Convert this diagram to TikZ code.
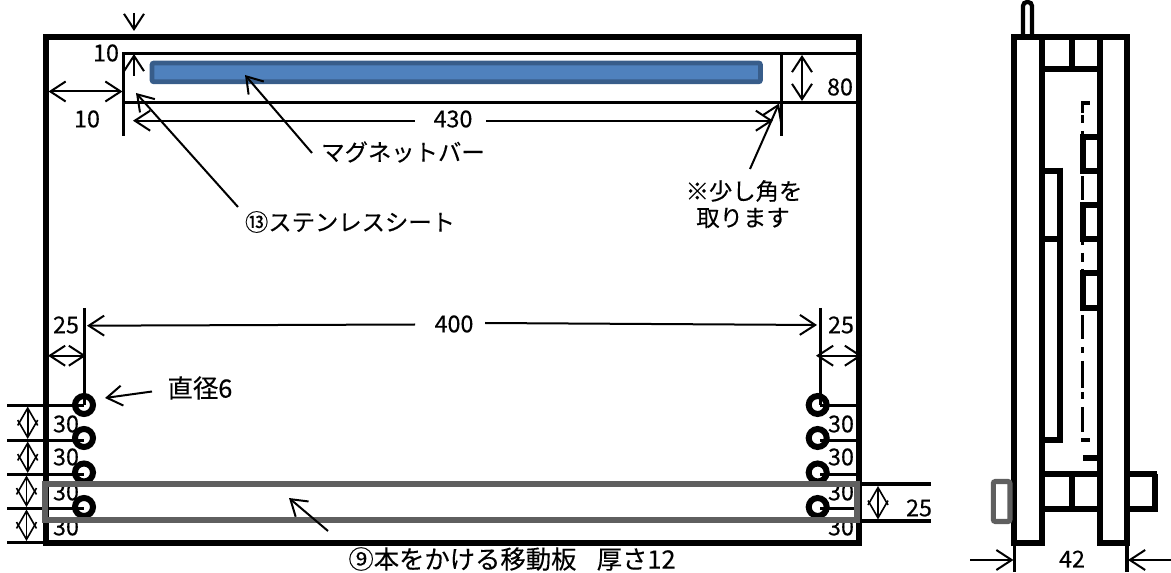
\documentclass[tikz,border=0pt]{standalone}
\usepackage{fontspec}
\setmainfont[FakeBold=0.25]{Noto Sans CJK JP}
\usetikzlibrary{arrows.meta}
\definecolor{barfill}{HTML}{4F81BD}
\definecolor{barline}{HTML}{385D8A}
\definecolor{platecol}{HTML}{5F5F5F}
\tikzset{
  heavy/.style={line width=4.5pt,line cap=rect,line join=miter},
  thinrule/.style={line width=2.3pt},
  dimarrow/.style={line width=1.5pt,{Straight Barb[length=11.5pt,width=15pt]}-{Straight Barb[length=11.5pt,width=15pt]}},
  endarrow/.style={line width=1.5pt,-{Straight Barb[length=11.5pt,width=15pt]}},
  startarrow/.style={line width=1.5pt,{Straight Barb[length=11.5pt,width=15pt]}-},
  diamondarrow/.style={line width=1.2pt,{Straight Barb[length=13pt,width=15pt]}-{Straight Barb[length=13pt,width=15pt]}},
  ring/.style={line width=4.5pt},
  plate/.style={line width=3.8pt,draw=platecol},
  label/.style={inner sep=0pt,font=\fontsize{17.5}{21}\selectfont},
  biglabel/.style={inner sep=0pt,font=\fontsize{19}{23}\selectfont},
}
\begin{document}
\begin{tikzpicture}[x=0.75pt,y=-0.75pt]
\useasboundingbox (0,0) rectangle (1171,573);
% ---------- front view
\draw[thinrule] (122.3,53.3) -- (859,53.3);
\draw[thinrule] (123.3,102.3) -- (859,102.3);
\draw[thinrule] (123.3,53.3) -- (123.3,136);
\draw[thinrule] (781.3,53.3) -- (781.3,136);
\draw[line width=3.6pt,draw=barline,fill=barfill,rounded corners=1.5pt] (152,63) rectangle (760.5,81.8);
% dims top
\draw[endarrow] (134,13) -- (134,31);
\draw[endarrow] (134,76) -- (134,54);
\draw[dimarrow] (48.5,91.5) -- (122.5,91.5);
\draw[startarrow] (133,120.7) -- (415,120.7);
\draw[endarrow] (486,120.7) -- (773,120.7);
\draw[dimarrow] (802,55) -- (802,101);
\node[label] (lblTen) at (106,53) {10};
\node[label] (lblTenB) at (87,119) {10};
\node[label] (lbl430) at (453,119) {430};
\node[label] (lbl80) at (840,87) {80};
% hole lines
\draw[thinrule] (84.3,308) -- (84.3,405);
\draw[thinrule] (820.3,308) -- (820.3,405);
\foreach \yy in {405.3,440.3,474.3,508.3,542.7}{
  \draw[thinrule] (7,\yy) -- (46,\yy);
}
\foreach \yy in {405.3,440.3,474.3,508.3}{
  \draw[thinrule] (46,\yy) -- (84,\yy);
  \draw[thinrule] (820,\yy) -- (857,\yy);
}
\draw[diamondarrow] (27.7,406.5) -- (27.7,439);
\draw[diamondarrow] (27.7,441.5) -- (27.7,473);
\draw[diamondarrow] (26.5,475.5) -- (26.5,507);
\draw[diamondarrow] (26.5,509.5) -- (26.5,541);
\draw[startarrow] (87,325.7) -- (415,324.5);
\draw[endarrow] (485,323) -- (817,325);
\draw[dimarrow] (48,355.7) -- (86,355.7);
\draw[dimarrow] (816,355.7) -- (862,355.7);
\node[label] (lblA) at (66,325) {25};
\node[label] (lblB) at (841,325) {25};
\node[label] (lbl400) at (454,324) {400};
\foreach \yy/\nn in {424/a,457/b,492/c,527/d}{
  \node[label] (l\nn) at (66,\yy) {30};
  \node[label] (r\nn) at (841,\yy) {30};
}
\foreach \yy in {405,438,472.5,507}{
  \draw[ring] (84,\yy) circle[radius=9];
  \draw[ring] (817.7,\yy) circle[radius=9];
}
% outer frame
\draw[heavy] (46,37) rectangle (859,543);
% plate
\draw[plate] (45,484) rectangle (857,520);
% plate dim
\draw[thinrule] (862,484) -- (931,484);
\draw[thinrule] (862,521) -- (931,521);
\draw[diamondarrow] (878,486) -- (878,519.5);
\node[label] (lbl25) at (919,508) {25};
% callouts
\node[label] (tMagnet) at (403,152) {マグネットバー};
\node[label] (tSheet) at (350,222) {⑬ステンレスシート};
\node[label] (tCornerA) at (744,191) {※少し角を};
\node[label] (tCornerB) at (743,218) {取ります};
\node[biglabel] (tHole) at (200,388) {直径6};
\node[biglabel] (tPlate) at (512,559) {⑨本をかける移動板\hspace{0.8em}厚さ12};
\draw[endarrow] (312,153) -- (245,75);
\draw[endarrow] (238,207) -- (136,93);
\draw[endarrow] (750,169) -- (779,103.5);
\draw[endarrow] (152,391.5) -- (105,398);
\draw[endarrow] (328,531) -- (289,498);
% ---------- side view
\foreach \xx in {1013.7,1041.7,1100,1127}{
  \draw[heavy,line cap=butt] (\xx,37) -- (\xx,545.5);
}
\draw[heavy] (1013.7,37) -- (1127,37);
\draw[heavy] (1013.7,543) -- (1041.7,543);
\draw[heavy] (1100,543) -- (1127,543);
\draw[line width=3.2pt,rounded corners=3pt] (1023,34) -- (1023,2) -- (1032,2) -- (1032,34);
\draw[heavy,line cap=butt] (1041,69.5) -- (1100,69.5);
\draw[heavy,line cap=butt] (1072,37) -- (1072,69.5);
% inner plate
\draw[heavy,line cap=butt] (1060,167.7) -- (1060,443);
\draw[heavy,line cap=butt] (1041,170.7) -- (1060,170.7);
\draw[heavy,line cap=butt] (1041,238.7) -- (1060,238.7);
\draw[heavy,line cap=butt] (1041,440) -- (1063,440);
% boxes
\foreach \ya/\yb in {136.7/170.7,204.7/238.7}{
  \draw[heavy,line cap=butt] (1100,\ya) -- (1083,\ya) -- (1083,\yb) -- (1100,\yb);
}
\draw[heavy,line cap=butt] (1100,273.3) -- (1083,273.3) -- (1083,307.7) -- (1100,307.7);
% chain line
\foreach \ya/\yb in {102/113,115/123,131/135,176/200,242/245,253/262,269/273,315/339,347/353,361/388,392/399,407/432}{
  \draw[line width=2.3pt] (1082.5,\ya) -- (1082.5,\yb);
}
\draw[line width=2.3pt] (1081,103) -- (1090,103);
\draw[line width=2.3pt] (1081,440) -- (1090,440);
% bottom
\draw[heavy,line cap=butt] (1083,457.7) -- (1100,457.7);
\draw[heavy,line cap=butt] (1041,474) -- (1100,474);
\draw[heavy,line cap=butt] (1041,508.7) -- (1100,508.7);
\draw[heavy,line cap=butt] (1127,474) -- (1157,474);
\draw[heavy,line cap=butt] (1127,508.7) -- (1158,508.7);
\draw[heavy,line cap=butt] (1072,474) -- (1072,508.7);
\draw[heavy,line cap=butt] (1155,474) -- (1155,511.5);
\draw[line width=3.8pt,draw=platecol,rounded corners=1.5pt] (993.3,481.5) rectangle (1010,521.5);
% 42
\draw[thinrule] (1014.3,545) -- (1014.3,572);
\draw[thinrule] (1127,545) -- (1127,572);
\draw[endarrow] (970,560) -- (1013.5,560);
\draw[endarrow] (1171,560) -- (1128,560);
\node[label] (lbl42) at (1072,559) {42};
\end{tikzpicture}
\end{document}
